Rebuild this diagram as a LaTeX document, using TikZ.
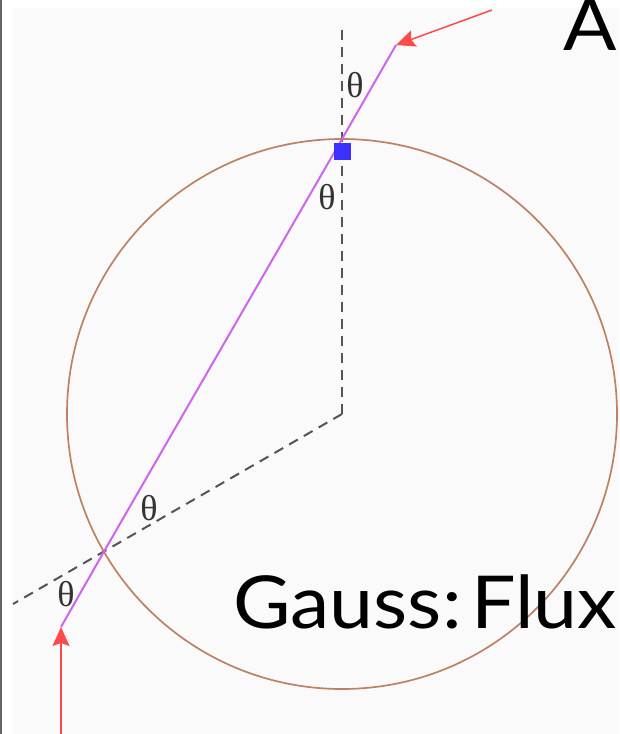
\documentclass[tikz,border=0pt]{standalone}
\usepackage{fontspec}
\usepackage{tikz}
\usetikzlibrary{arrows.meta, positioning, calc}
\newfontfamily\slidefont[FakeStretch=1.08]{Lato}
\newfontfamily\anglefont{Liberation Serif}
\definecolor{panelbg}{HTML}{FAFAFA}
\definecolor{framegray}{HTML}{666666}
\definecolor{shellbrown}{HTML}{BC8262}
\definecolor{raypurple}{HTML}{CC66EE}
\definecolor{fieldred}{HTML}{FF4A4A}
\definecolor{patchblue}{HTML}{3B30FF}
\definecolor{normalgray}{HTML}{555555}

\begin{document}
\begin{tikzpicture}[
    x=1pt, y=-1pt,
    shell/.style={draw=shellbrown, line width=1.7pt},
    ray/.style={draw=raypurple, line width=2pt},
    normal/.style={draw=normalgray, line width=2pt, dash pattern=on 10pt off 7pt},
    field/.style={-{Stealth[length=19pt, width=17pt, inset=3pt]}, draw=fieldred, fill=fieldred, line width=1.5pt},
    patch/.style={fill=patchblue, minimum size=17pt, inner sep=0pt},
    anglelabel/.style={font=\anglefont\fontsize{36}{40}\selectfont, text=black!80, inner sep=0pt},
    title/.style={font=\slidefont\fontsize{73}{80}\selectfont, inner sep=0pt, anchor=base west}
]
\useasboundingbox (0,0) rectangle (619,734);
\clip (0,0) rectangle (619,734);

% Background
\fill[white] (0,0) rectangle (619,734);
\fill[panelbg] (13,8) rectangle (619,734);
\fill[framegray] (0,0) rectangle (2,734);

% Points
\coordinate (O) at (342,414);
\coordinate (up) at (342,30);
\coordinate (low) at (13,604);
\coordinate (top) at (342,139);
\coordinate (cross) at (104,551.5);
\coordinate (rayin) at (396,45);
\coordinate (rayout) at (61,627);
\coordinate (srcA) at (492,10);
\coordinate (srcB) at (61,734);

% Gaussian surface
\draw[shell] (O) circle[radius=275];

% Normals
\draw[normal] (up) -- (O);
\draw[normal] (O) -- (low);

% Field line
\draw[ray] (rayin) -- (top) -- (cross) -- (rayout);
\draw[field] (srcA) -- (rayin);
\draw[field] (srcB) -- (rayout);

% Area element
\node[patch] (dA) at (342,151) {};

% Angles
\node[anglelabel] (th1) at (355,85) {θ};
\node[anglelabel] (th2) at (327,197) {θ};
\node[anglelabel] (th3) at (149,508) {θ};
\node[anglelabel] (th4) at (66,594) {θ};

% Titles
\node[title] (headA) at (563,50) {A};
\node[title] (gauss) at (233,628) {Gauss:\hspace{0.13em}Flux};
\end{tikzpicture}
\end{document}
